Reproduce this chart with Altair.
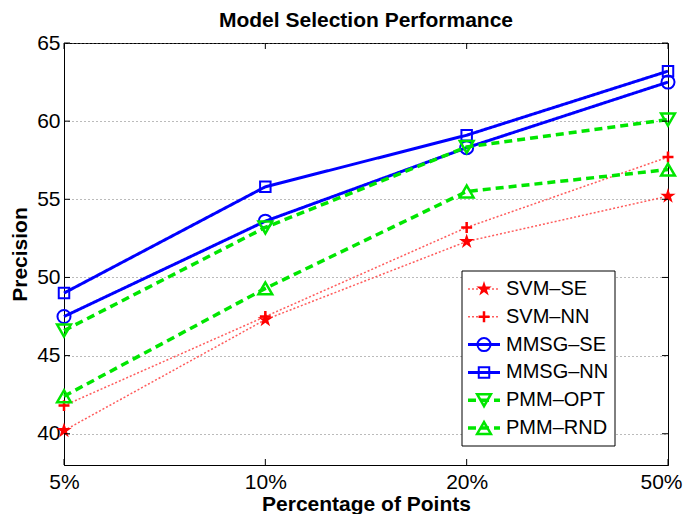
import altair as alt
import pandas as pd

# ---- data ----
categories = ["5%", "10%", "20%", "50%"]
series_names = ["SVM–SE", "SVM–NN", "MMSG–SE", "MMSG–NN", "PMM–OPT", "PMM–RND"]
svm_se = [40.2, 47.3, 52.3, 55.2]
svm_nn = [41.8, 47.5, 53.2, 57.7]
mmsg_se = [47.5, 53.6, 58.3, 62.5]
mmsg_nn = [49.0, 55.8, 59.1, 63.2]
pmm_opt = [46.6, 53.2, 58.35, 60.1]
pmm_rnd = [42.4, 49.3, 55.5, 56.9]
y_ticks = [40, 45, 50, 55, 60, 65]

all_values = [svm_se, svm_nn, mmsg_se, mmsg_nn, pmm_opt, pmm_rnd]
rows = []
for name, vals in zip(series_names, all_values):
    for c, v in zip(categories, vals):
        rows.append({"series": name, "pct": c, "precision": v})
df = pd.DataFrame(rows)
legend_df = pd.DataFrame({"series": series_names})
ytick_df = pd.DataFrame({"precision": y_ticks})
xtick_df = pd.DataFrame({"pct": categories})
one_df = pd.DataFrame({"a": [0]})

FONT = "Liberation Sans"
RED, BLUE, GREEN = "#ff0000", "#0000ff", "#00e600"
STAR = ("M0,-1L0.225,-0.309L0.951,-0.309L0.363,0.118L0.588,0.809L0,0.382"
        "L-0.588,0.809L-0.363,0.118L-0.951,-0.309L-0.225,-0.309Z")
PLUS = "M-1,0L1,0M0,-1L0,1"

styles = {
    "SVM–SE": dict(line="#ff5c5c", dash=[2, 2], width=1.5, shape=STAR, size=260, filled=True, mc=RED, mw=0.5),
    "SVM–NN": dict(line="#ff5c5c", dash=[2, 2], width=1.5, shape=PLUS, size=120, filled=False, mc=RED, mw=2.5),
    "MMSG–SE": dict(line=BLUE, dash=[1, 0], width=3, shape="circle", size=170, filled=False, mc=BLUE, mw=2),
    "MMSG–NN": dict(line=BLUE, dash=[1, 0], width=3, shape="square", size=110, filled=False, mc=BLUE, mw=2),
    "PMM–OPT": dict(line=GREEN, dash=[8, 5], width=3.5, shape="triangle-down", size=190, filled=False, mc=GREEN, mw=2.5),
    "PMM–RND": dict(line=GREEN, dash=[8, 5], width=3.5, shape="triangle-up", size=190, filled=False, mc=GREEN, mw=2.5),
}

W, H = 604, 422
xscale = alt.Scale(type="point", domain=categories, padding=0)
yscale = alt.Scale(domain=[38, 65], nice=False, zero=False)

x_axis = alt.Axis(labelAngle=0, labelFontSize=21, labelFont=FONT, labelColor="black",
                  labelPadding=6, tickSize=0, domainColor="black", grid=False,
                  labelOffset={"condition": {"test": "datum.label == '50%'", "value": -7},
                               "value": 0},
                  title="Percentage of Points", titleFont=FONT, titleFontSize=21,
                  titleFontWeight="bold", titleColor="black", titleY=45,
                  titleBaseline="alphabetic")
y_axis = alt.Axis(values=y_ticks, labelFontSize=21, labelFont=FONT, labelColor="black",
                  labelPadding=4, tickSize=0, domainColor="black", grid=True,
                  gridDash=[1, 3], gridColor="#777777", gridWidth=1,
                  title="Precision", titleFont=FONT, titleFontSize=21,
                  titleFontWeight="bold", titleColor="black", titleX=-38,
                  titleBaseline="alphabetic")

X = alt.X("pct:N", scale=xscale, axis=x_axis, sort=categories)
Y = alt.Y("precision:Q", scale=yscale, axis=y_axis)

main_layers = []
for name in series_names:
    s = styles[name]
    line = alt.Chart(df).transform_filter(alt.datum.series == name).mark_line(
        color=s["line"], strokeDash=s["dash"], strokeWidth=s["width"]
    ).encode(x=X, y=Y)
    pts = alt.Chart(df).transform_filter(alt.datum.series == name).mark_point(
        shape=s["shape"], size=s["size"], filled=s["filled"],
        color=s["mc"], strokeWidth=s["mw"], opacity=1
    ).encode(x=X, y=Y)
    main_layers += [line, pts]

# inward tick marks (MATLAB style)
tick_l = alt.Chart(ytick_df).mark_rule(color="black").encode(
    y=Y, x=alt.value(0), x2=alt.value(6))
tick_r = alt.Chart(ytick_df).mark_rule(color="black").encode(
    y=Y, x=alt.value(W - 6), x2=alt.value(W))
tick_b = alt.Chart(xtick_df).mark_rule(color="black").encode(
    x=X, y=alt.value(H - 6), y2=alt.value(H))
tick_t = alt.Chart(xtick_df).mark_rule(color="black").encode(
    x=X, y=alt.value(0), y2=alt.value(6))

main = alt.layer(*main_layers, tick_l, tick_r, tick_b, tick_t)

# legend
leg_y = alt.Scale(type="point", domain=series_names, range=[246, 385], padding=0)
LY = alt.Y("series:N", scale=leg_y, axis=None)
box = alt.Chart(one_df).mark_rect(fill="white", stroke="black", strokeWidth=1).encode(
    x=alt.value(398), x2=alt.value(551), y=alt.value(228), y2=alt.value(403))
leg_layers = [box]
for name in series_names:
    s = styles[name]
    seg = alt.Chart(legend_df).transform_filter(alt.datum.series == name).mark_rule(
        color=s["line"], strokeDash=s["dash"], strokeWidth=s["width"]
    ).encode(x=alt.value(404), x2=alt.value(436), y=LY)
    mk = alt.Chart(legend_df).transform_filter(alt.datum.series == name).mark_point(
        shape=s["shape"], size=s["size"], filled=s["filled"],
        color=s["mc"], strokeWidth=s["mw"], opacity=1
    ).encode(x=alt.value(420), y=LY)
    leg_layers += [seg, mk]
txt = alt.Chart(legend_df).mark_text(
    align="left", baseline="middle", fontSize=20, font=FONT, color="black"
).encode(x=alt.value(442), y=LY, text="series:N")
leg_layers.append(txt)
legend = alt.layer(*leg_layers)

chart = alt.layer(main, legend).resolve_scale(y="independent", x="independent").properties(
    width=W, height=H,
    title=alt.TitleParams("Model Selection Performance", font=FONT, fontSize=21,
                          fontWeight="bold", color="black", anchor="middle",
                          baseline="alphabetic", offset=6, dy=22),
    autosize=alt.AutoSizeParams(type="none"),
    padding={"left": 56, "top": 35, "right": 15, "bottom": 52},
).configure_view(stroke="black", strokeWidth=1)

chart.save("out.html", embed_options={"renderer": "svg", "actions": False})
